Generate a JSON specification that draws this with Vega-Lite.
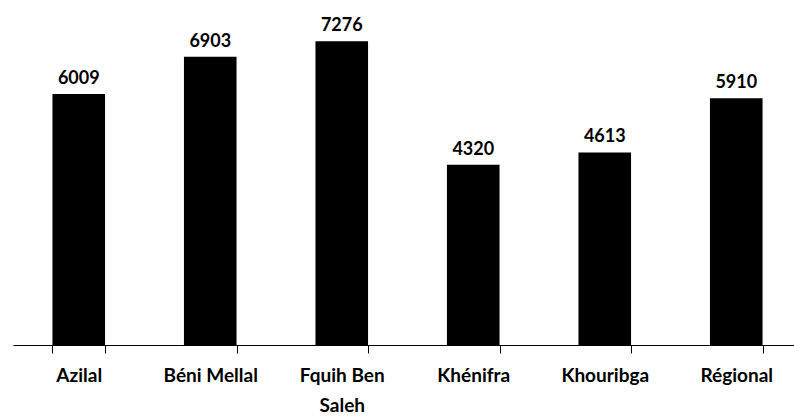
{
  "$schema": "https://vega.github.io/schema/vega-lite/v6.json",
  "width": 789,
  "height": 334,
  "autosize": "none",
  "padding": {"left": 13, "top": 11, "right": 0, "bottom": 72},
  "background": "white",
  "config": {"view": {"stroke": null}, "font": "Lato"},
  "data": {
    "values": [
      {"key": "Azilal", "value": 6009},
      {"key": "Béni Mellal", "value": 6903},
      {"key": "Fquih Ben Saleh", "value": 7276},
      {"key": "Khénifra", "value": 4320},
      {"key": "Khouribga", "value": 4613},
      {"key": "Régional", "value": 5910}
    ]
  },
  "encoding": {
    "x": {
      "field": "key",
      "type": "nominal",
      "sort": null,
      "scale": {"paddingInner": 0.6, "paddingOuter": 0.3},
      "axis": {
        "title": null,
        "labelAngle": 0,
        "labelExpr": "datum.value == 'Fquih Ben Saleh' ? ['Fquih Ben', 'Saleh'] : datum.value",
        "labelFont": "Lato",
        "labelFontWeight": "bold",
        "labelFontSize": 19,
        "labelColor": "black",
        "labelLineHeight": 30,
        "labelPadding": 13,
        "tickBand": "extent",
        "tickSize": 8,
        "tickColor": "black",
        "domainColor": "black",
        "domainWidth": 1,
        "tickWidth": 1
      }
    },
    "y": {
      "field": "value",
      "type": "quantitative",
      "scale": {"domain": [0, 8000]},
      "axis": null
    }
  },
  "layer": [
    {"mark": {"type": "bar", "color": "black"}},
    {
      "mark": {"type": "text", "dy": -10, "baseline": "alphabetic", "font": "Lato", "fontWeight": "bold", "fontSize": 18, "color": "black"},
      "encoding": {"text": {"field": "value", "type": "quantitative", "format": "d"}}
    }
  ]
}
